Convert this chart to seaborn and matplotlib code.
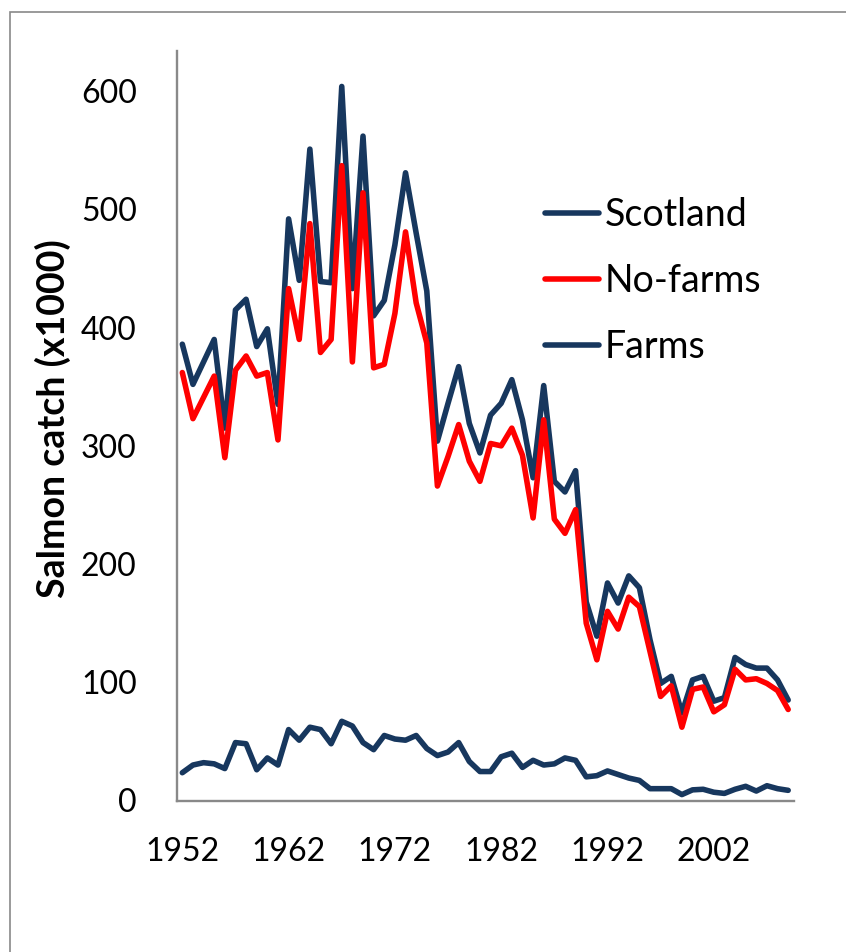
import pandas as pd
import numpy as np
import seaborn as sns
import matplotlib.pyplot as plt
from matplotlib.patches import Rectangle
from matplotlib.lines import Line2D

# Дані (тис. риб)
years = list(range(1952, 2010))
scotland = [386, 352, 371, 390, 315, 415, 424, 384, 399, 335,
            492, 440, 551, 439, 438, 604, 433, 562, 410, 423,
            470, 531, 480, 431, 304, 336, 367, 319, 294, 326,
            336, 356, 322, 273, 351, 270, 261, 279, 168, 139,
            184, 167, 190, 180, 136, 99, 105, 74, 102, 105,
            84, 87, 121, 115, 112, 112, 102, 85]
no_farms = [362, 323, 341, 359, 290, 364, 376, 359, 362, 305,
            433, 390, 488, 379, 390, 537, 371, 514, 366, 369,
            412, 481, 421, 387, 266, 291, 318, 287, 270, 302,
            300, 315, 292, 239, 322, 238, 226, 246, 150, 119,
            160, 145, 172, 164, 126, 88, 97, 62, 94, 96,
            75, 81, 111, 102, 103, 99, 93, 77]
farms = [23.5, 30, 32, 31, 27, 49, 48, 26, 36, 30,
         60, 51, 62, 60, 48, 67, 63, 49, 43, 55,
         52, 51, 55, 44, 38, 41, 49, 33, 24.5, 24.5,
         37, 40, 28, 34, 30, 31, 36, 34, 20, 21,
         25, 22, 19, 17, 10, 10, 10, 5, 9, 9.5,
         7, 6, 9.5, 12, 8, 12.5, 10, 8.6]
series_names = ['Scotland', 'No-farms', 'Farms']
label_years = [1952, 1962, 1972, 1982, 1992, 2002]

navy = '#17375E'
red = '#FF0000'
grey = '#898989'
colors = {'Scotland': navy, 'No-farms': red, 'Farms': navy}

df = pd.DataFrame({
    'year': years * 3,
    'catch': scotland + no_farms + farms,
    'series': sum([[s] * len(years) for s in series_names], []),
})

sns.set_style('white')
plt.rcParams['font.family'] = ['Lato', 'DejaVu Sans']
plt.rcParams['text.color'] = 'black'
plt.rcParams['xtick.labelcolor'] = 'black'
plt.rcParams['ytick.labelcolor'] = 'black'
plt.rcParams['axes.labelcolor'] = 'black'

fig = plt.figure(figsize=(8.46, 9.52), dpi=100)
ax = fig.add_axes([177 / 846, 1 - 800.5 / 952, 616.5 / 846, 749.5 / 952])

for name in series_names:
    sns.lineplot(data=df[df['series'] == name], x='year', y='catch',
                 color=colors[name], linewidth=4, ax=ax, legend=False)

ax.set_xlim(1951.5, 2009.5)
ax.set_ylim(0, 634)

# Вісь Y
ax.set_yticks(range(0, 700, 100))
ax.tick_params(axis='y', direction='in', length=8.8, width=1.5, color=grey,
               labelsize=23, pad=29)

# Вісь X: риски між категоріями, підписи по центру категорій
ax.set_xticks([1951.5, 1961.5, 1971.5, 1981.5, 1991.5, 2001.5])
ax.set_xticklabels([])
ax.set_xticks(label_years, minor=True)
ax.set_xticklabels([str(y) for y in label_years], minor=True)
ax.tick_params(axis='x', which='major', direction='in', length=8, width=1.5, color=grey)
ax.tick_params(axis='x', which='minor', length=0, labelsize=23, pad=26)

for side in ['top', 'right']:
    ax.spines[side].set_visible(False)
for side in ['left', 'bottom']:
    ax.spines[side].set_color(grey)
    ax.spines[side].set_linewidth(1.7)

ax.set_xlabel('')
ax.set_ylabel('Salmon catch (x1000)', fontsize=27, fontweight='bold')
ax.yaxis.set_label_coords(-0.172, 0.51)

handles = [Line2D([], [], color=colors[n], linewidth=4) for n in series_names]
ax.legend(handles, series_names, loc='center left', bbox_to_anchor=(0.597, 0.693),
          frameon=False, fontsize=27, handlelength=1.45, handletextpad=0.15,
          labelspacing=0.79, borderpad=0, borderaxespad=0)

# Рамка діаграми (видно лише лівий і верхній край)
fig.add_artist(Rectangle((9.5 / 846, -0.5), 2, 0.5 + 1 - 12 / 952,
                         transform=fig.transFigure, fill=False,
                         edgecolor=grey, linewidth=1.2, clip_on=False))

fig.savefig('out.png', dpi=100)
